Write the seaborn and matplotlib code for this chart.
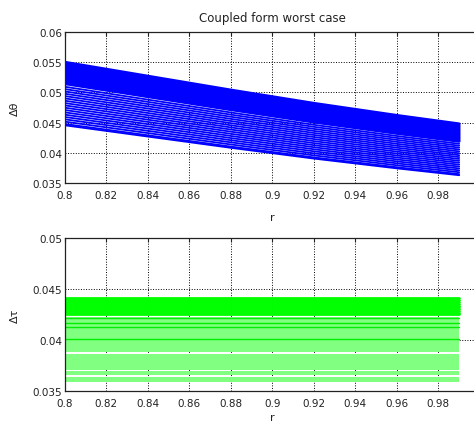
import matplotlib
matplotlib.use("Agg")
import matplotlib.pyplot as plt
import seaborn as sns
import pandas as pd
from matplotlib.ticker import FuncFormatter

# ---- data ----
r_points = [0.80, 0.84, 0.88, 0.92, 0.96, 0.99]
# upper curve of the delta-theta family
dtheta_top = [0.0550, 0.0527, 0.0504, 0.0482, 0.0462, 0.0448]
# family members, given by their level at r = 0.8 relative to the upper curve
theta_dense_levels = [1.000, 0.995, 0.990, 0.985, 0.980, 0.975, 0.970,
                      0.965, 0.960, 0.955, 0.950, 0.945, 0.940, 0.935]
theta_sparse_levels = [0.926, 0.919, 0.912, 0.905, 0.898, 0.891, 0.884,
                       0.877, 0.870, 0.863, 0.856, 0.849, 0.842, 0.835,
                       0.828, 0.821, 0.814, 0.810]

r_span = [0.80, 0.99]
tau_dense = [0.04410, 0.04392, 0.04374, 0.04356, 0.04338, 0.04320, 0.04302,
             0.04284, 0.04266, 0.04250]
tau_bright = [0.04216, 0.04164, 0.04127, 0.04010]
tau_light_low = [0.03592, 0.03652, 0.03706, 0.03880]
tau_light_high = [0.03642, 0.03698, 0.03866, 0.04226]

x_ticks = [0.8, 0.82, 0.84, 0.86, 0.88, 0.9, 0.92, 0.94, 0.96, 0.98]
theta_ticks = [0.035, 0.04, 0.045, 0.05, 0.055, 0.06]
tau_ticks = [0.035, 0.04, 0.045, 0.05]

# ---- build tables ----
def family(levels, tag):
    rows = []
    for i, k in enumerate(levels):
        for r, v in zip(r_points, dtheta_top):
            rows.append({"r": r, "val": v * k, "line": f"{tag}{i}"})
    return pd.DataFrame(rows)

df_dense = family(theta_dense_levels, "d")
df_sparse = family(theta_sparse_levels, "s")

def hlines(levels, tag):
    rows = []
    for i, t in enumerate(levels):
        for r in r_span:
            rows.append({"r": r, "val": t, "line": f"{tag}{i}"})
    return pd.DataFrame(rows)

df_tau_dense = hlines(tau_dense, "d")
df_tau_bright = hlines(tau_bright, "b")

sns.set_style("white")
plt.rcParams["font.family"] = ["DejaVu Sans"]

fig = plt.figure(figsize=(4.74, 4.27), dpi=100)
ax1 = fig.add_axes([0.137, 0.5691, 0.8755, 0.3536])
ax2 = fig.add_axes([0.137, 0.0820, 0.8755, 0.3583])

sns.lineplot(data=df_sparse, x="r", y="val", units="line", estimator=None,
             color="#0000ff", lw=1.3, ax=ax1, legend=False)
sns.lineplot(data=df_dense, x="r", y="val", units="line", estimator=None,
             color="#0000ff", lw=2.0, ax=ax1, legend=False)

for lo, hi in zip(tau_light_low, tau_light_high):
    ax2.fill_between(r_span, [lo, lo], [hi, hi], color="#80ff80", lw=0)
sns.lineplot(data=df_tau_dense, x="r", y="val", units="line", estimator=None,
             color="#00ff00", lw=2.0, ax=ax2, legend=False)
sns.lineplot(data=df_tau_bright, x="r", y="val", units="line", estimator=None,
             color="#00ee00", lw=1.0, ax=ax2, legend=False)

fmt = FuncFormatter(lambda v, p: f"{v:g}")
for ax, yt, lab, xpad in [(ax1, theta_ticks, "Δθ", 9), (ax2, tau_ticks, "Δτ", 3)]:
    ax.set_xlim(0.8, 1.0)
    ax.set_ylim(yt[0], yt[-1])
    ax.set_xticks(x_ticks)
    ax.set_yticks(yt)
    ax.yaxis.set_major_formatter(fmt)
    ax.xaxis.set_major_formatter(fmt)
    ax.grid(True, ls=":", color="black", lw=0.7)
    ax.tick_params(direction="in", length=3, labelsize=7.5, colors="#222222",
                   top=True, right=True)
    ax.tick_params(axis="x", pad=5)
    ax.tick_params(axis="y", pad=2)
    for s in ax.spines.values():
        s.set_color("#222222")
        s.set_linewidth(0.9)
    ax.set_xlabel("r", fontsize=8, color="#222222", labelpad=xpad)
    ax.set_ylabel(lab, fontsize=8, color="#222222", labelpad=9)

ax1.set_title("Coupled form worst case", fontsize=8.5, color="#222222", pad=8)

fig.savefig("out.png", dpi=100, facecolor="white")
